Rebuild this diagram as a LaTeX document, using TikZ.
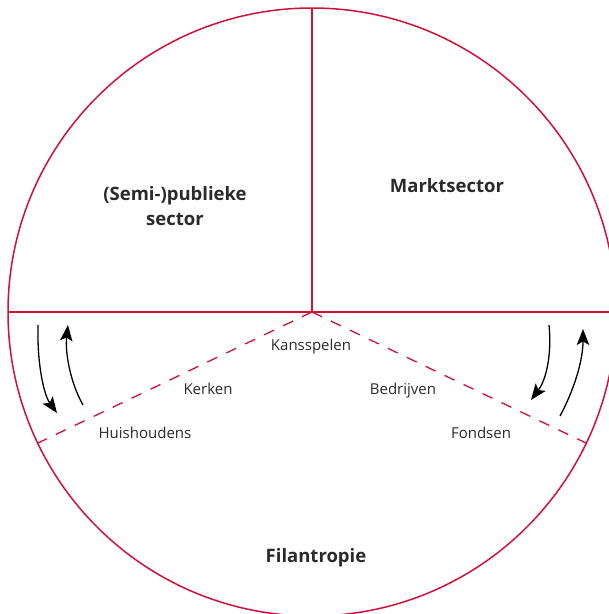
\documentclass[tikz,border=0pt]{standalone}
\usepackage{fontspec}
\setmainfont{Open Sans}
\usetikzlibrary{arrows.meta}
\definecolor{sred}{HTML}{D0103A}
\definecolor{txt}{HTML}{2A2A2A}
\begin{document}
\begin{tikzpicture}[x=1pt,y=-1pt,
  redline/.style={draw=sred,line width=1.5pt},
  reddash/.style={draw=sred,line width=1.3pt,dash pattern=on 11pt off 10pt},
  flow/.style={draw=black,line width=1.3pt,-{Stealth[length=16pt,width=12.5pt,inset=3.5pt]}},
  sectorlbl/.style={text=txt,font=\bfseries\fontsize{18.5}{25}\selectfont,align=center},
  sublbl/.style={text=txt,font=\fontsize{15}{18}\selectfont,anchor=base}]
\useasboundingbox (0,0) rectangle (609,614);
\coordinate (c) at (312,312);
\coordinate (top) at (312,8);
\coordinate (left) at (8,312);
\coordinate (right) at (640,312);
\coordinate (dl) at (38,443);
\coordinate (dr) at (586,443);
\begin{scope}
\clip (0,0) rectangle (609,614);
\draw[redline] (c) circle[radius=304];
\draw[redline] (top) -- (c);
\draw[redline] (left) -- (right);
\draw[reddash] (c) -- (dl);
\draw[reddash] (c) -- (dr);
\end{scope}
% arrows
\coordinate (a1s) at (38,325); \coordinate (a1e) at (57,413);
\coordinate (a2s) at (83,405); \coordinate (a2e) at (68,325);
\coordinate (a3s) at (549,325); \coordinate (a3e) at (531,400);
\coordinate (a4s) at (560,416); \coordinate (a4e) at (583,329);
\draw[flow] (a1s) .. controls (37,365) and (44,395) .. (a1e);
\draw[flow] (a2s) .. controls (70,382) and (65,352) .. (a2e);
\draw[flow] (a3s) .. controls (552,355) and (546,380) .. (a3e);
\draw[flow] (a4s) .. controls (573,392) and (583,362) .. (a4e);
% labels
\node[sectorlbl] (pub) at (175,206) {(Semi-)publieke\\sector};
\node[sectorlbl,anchor=base] (mark) at (447,192) {Marktsector};
\node[sectorlbl,anchor=base] (fil) at (316,562) {Filantropie};
\node[sublbl] (kans) at (311,350) {Kansspelen};
\node[sublbl] (kerk) at (208,394) {Kerken};
\node[sublbl] (bedr) at (403,394) {Bedrijven};
\node[sublbl] (huis) at (145,438) {Huishoudens};
\node[sublbl] (fond) at (481,438) {Fondsen};
\end{tikzpicture}
\end{document}
